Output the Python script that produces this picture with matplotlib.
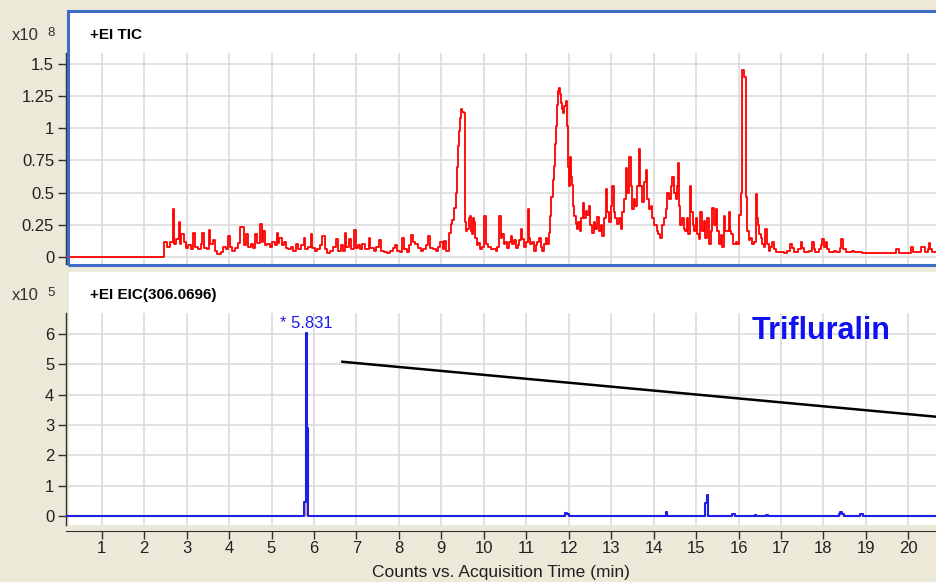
import numpy as np
import matplotlib
matplotlib.use("Agg")
import matplotlib.pyplot as plt
from matplotlib.patches import Rectangle

# ---- data -------------------------------------------------------------
# TIC trace (x10^8 counts), drawn as steps
tic_t = [0.16, 2.46, 2.55, 2.62, 2.68, 2.71, 2.76, 2.81, 2.84, 2.88, 2.93, 2.98, 3.04, 3.10,
         3.16, 3.20, 3.27, 3.33, 3.37, 3.41, 3.47, 3.52, 3.56, 3.63, 3.67, 3.72, 3.80, 3.86,
         3.92, 3.97, 4.02, 4.08, 4.14, 4.20, 4.25, 4.31, 4.35, 4.39, 4.44, 4.51, 4.56, 4.60,
         4.65, 4.73, 4.77, 4.80, 4.85, 4.90, 4.96, 5.02, 5.08, 5.12, 5.15, 5.18, 5.24, 5.29,
         5.33, 5.40, 5.45, 5.50, 5.57, 5.63, 5.70, 5.76, 5.80, 5.86, 5.92, 5.96, 6.02, 6.08,
         6.14, 6.20, 6.25, 6.31, 6.38, 6.45, 6.53, 6.57, 6.63, 6.68, 6.72, 6.76, 6.82, 6.87,
         6.94, 6.98, 7.03, 7.08, 7.14, 7.20, 7.29, 7.33, 7.41, 7.47, 7.53, 7.58, 7.65, 7.73,
         7.80, 7.85, 7.90, 7.96, 8.02, 8.08, 8.12, 8.18, 8.24, 8.29, 8.34, 8.39, 8.45, 8.51,
         8.57, 8.63, 8.68, 8.73, 8.80, 8.87, 8.93, 8.98, 9.03, 9.06, 9.10, 9.18, 9.22, 9.26,
         9.30, 9.34, 9.37, 9.39, 9.42, 9.44, 9.47, 9.49, 9.53, 9.55, 9.58, 9.61, 9.64, 9.67,
         9.70, 9.73, 9.75, 9.77, 9.80, 9.83, 9.87, 9.91, 9.95, 10.00, 10.04, 10.10, 10.16, 10.22,
         10.28, 10.32, 10.36, 10.40, 10.44, 10.48, 10.51, 10.55, 10.60, 10.63, 10.67, 10.71, 10.75, 10.80,
         10.84, 10.87, 10.91, 10.94, 11.00, 11.04, 11.07, 11.09, 11.13, 11.18, 11.22, 11.26, 11.30, 11.34,
         11.38, 11.42, 11.46, 11.50, 11.53, 11.56, 11.59, 11.62, 11.65, 11.67, 11.69, 11.72, 11.74, 11.77,
         11.80, 11.82, 11.85, 11.87, 11.90, 11.93, 11.95, 11.97, 11.99, 12.00, 12.02, 12.04, 12.06, 12.08,
         12.10, 12.12, 12.16, 12.20, 12.23, 12.26, 12.30, 12.34, 12.37, 12.40, 12.44, 12.47, 12.51, 12.55,
         12.59, 12.63, 12.67, 12.71, 12.75, 12.79, 12.83, 12.87, 12.91, 12.95, 12.99, 13.03, 13.06, 13.10,
         13.14, 13.18, 13.22, 13.26, 13.30, 13.34, 13.38, 13.42, 13.46, 13.50, 13.54, 13.57, 13.61, 13.65,
         13.69, 13.73, 13.77, 13.81, 13.85, 13.89, 13.93, 13.97, 14.02, 14.07, 14.11, 14.16, 14.20, 14.24,
         14.28, 14.32, 14.36, 14.40, 14.44, 14.48, 14.52, 14.55, 14.57, 14.60, 14.63, 14.67, 14.71, 14.75,
         14.79, 14.82, 14.85, 14.88, 14.92, 14.95, 15.00, 15.03, 15.06, 15.10, 15.14, 15.18, 15.22, 15.26,
         15.30, 15.34, 15.38, 15.42, 15.46, 15.50, 15.54, 15.58, 15.61, 15.65, 15.69, 15.72, 15.77, 15.80,
         15.83, 15.86, 15.89, 15.93, 15.97, 16.01, 16.06, 16.09, 16.13, 16.17, 16.20, 16.24, 16.28, 16.32,
         16.36, 16.40, 16.43, 16.45, 16.48, 16.52, 16.56, 16.60, 16.63, 16.67, 16.71, 16.75, 16.79, 16.83,
         16.88, 17.00, 17.07, 17.15, 17.22, 17.26, 17.30, 17.40, 17.46, 17.50, 17.54, 17.65, 17.73, 17.77,
         17.81, 17.90, 17.94, 17.97, 18.01, 18.05, 18.09, 18.13, 18.24, 18.30, 18.38, 18.42, 18.47, 18.52,
         18.60, 18.68, 18.73, 18.83, 18.90, 19.11, 19.66, 19.70, 19.78, 20.00, 20.05, 20.10, 20.30, 20.38,
         20.45, 20.48, 20.52, 20.56, 20.70]
tic_v = [0.0, 0.116, 0.08, 0.12, 0.377, 0.10, 0.14, 0.27, 0.10, 0.18, 0.12, 0.07, 0.09, 0.06,
         0.19, 0.08, 0.06, 0.10, 0.19, 0.07, 0.06, 0.21, 0.10, 0.13, 0.05, 0.02, 0.04, 0.08,
         0.06, 0.16, 0.08, 0.05, 0.07, 0.11, 0.23, 0.235, 0.09, 0.18, 0.08, 0.10, 0.07, 0.18,
         0.11, 0.26, 0.12, 0.20, 0.09, 0.10, 0.08, 0.12, 0.09, 0.19, 0.11, 0.15, 0.09, 0.12,
         0.07, 0.06, 0.08, 0.05, 0.10, 0.06, 0.09, 0.145, 0.06, 0.08, 0.18, 0.07, 0.05, 0.06,
         0.09, 0.16, 0.06, 0.03, 0.05, 0.08, 0.14, 0.05, 0.09, 0.05, 0.19, 0.08, 0.14, 0.06,
         0.21, 0.07, 0.09, 0.06, 0.10, 0.06, 0.15, 0.07, 0.05, 0.08, 0.13, 0.05, 0.04, 0.03,
         0.05, 0.07, 0.09, 0.05, 0.04, 0.15, 0.06, 0.04, 0.09, 0.17, 0.12, 0.10, 0.07, 0.05,
         0.06, 0.09, 0.165, 0.07, 0.06, 0.05, 0.08, 0.12, 0.06, 0.125, 0.05, 0.19, 0.26, 0.29,
         0.38, 0.50, 0.70, 0.86, 0.98, 1.08, 1.15, 1.13, 1.12, 0.27, 0.20, 0.22, 0.30, 0.32,
         0.20, 0.18, 0.30, 0.27, 0.15, 0.09, 0.11, 0.06, 0.08, 0.32, 0.10, 0.08, 0.06, 0.06,
         0.05, 0.08, 0.32, 0.15, 0.18, 0.10, 0.12, 0.07, 0.12, 0.16, 0.10, 0.13, 0.07, 0.09,
         0.13, 0.22, 0.14, 0.08, 0.12, 0.37, 0.15, 0.10, 0.12, 0.05, 0.09, 0.12, 0.15, 0.08,
         0.05, 0.10, 0.15, 0.10, 0.19, 0.32, 0.47, 0.60, 0.71, 0.88, 1.02, 1.18, 1.29, 1.31,
         1.27, 1.20, 1.15, 1.12, 1.17, 1.21, 1.12, 1.02, 0.70, 0.55, 0.70, 0.78, 0.62, 0.56,
         0.40, 0.32, 0.26, 0.22, 0.27, 0.20, 0.30, 0.42, 0.30, 0.36, 0.33, 0.40, 0.25, 0.19,
         0.27, 0.22, 0.31, 0.20, 0.25, 0.165, 0.30, 0.53, 0.35, 0.27, 0.40, 0.55, 0.35, 0.30,
         0.26, 0.30, 0.22, 0.35, 0.45, 0.69, 0.50, 0.78, 0.55, 0.37, 0.45, 0.40, 0.55, 0.84,
         0.55, 0.43, 0.58, 0.68, 0.45, 0.37, 0.40, 0.30, 0.25, 0.20, 0.18, 0.15, 0.25, 0.30,
         0.37, 0.50, 0.45, 0.55, 0.62, 0.50, 0.45, 0.55, 0.73, 0.40, 0.25, 0.30, 0.22, 0.20,
         0.30, 0.18, 0.55, 0.35, 0.25, 0.20, 0.30, 0.18, 0.14, 0.35, 0.20, 0.28, 0.15, 0.30,
         0.10, 0.20, 0.38, 0.25, 0.37, 0.20, 0.10, 0.17, 0.08, 0.32, 0.20, 0.20, 0.35, 0.20,
         0.18, 0.10, 0.10, 0.12, 0.10, 0.33, 0.50, 1.45, 1.40, 0.47, 0.20, 0.13, 0.15, 0.10,
         0.12, 0.49, 0.30, 0.25, 0.18, 0.15, 0.10, 0.08, 0.22, 0.10, 0.05, 0.08, 0.12, 0.06,
         0.04, 0.04, 0.035, 0.05, 0.10, 0.07, 0.04, 0.06, 0.12, 0.07, 0.04, 0.05, 0.12, 0.06,
         0.04, 0.06, 0.09, 0.14, 0.08, 0.12, 0.06, 0.04, 0.05, 0.04, 0.07, 0.14, 0.06, 0.04,
         0.04, 0.05, 0.04, 0.04, 0.035, 0.035, 0.035, 0.06, 0.035, 0.035, 0.075, 0.04, 0.075, 0.04,
         0.06, 0.11, 0.06, 0.04, 0.035]

# EIC 306.0696 trace (x10^5 counts), steps
eic_t = [0.16, 5.77, 5.81, 5.83, 5.86, 11.92, 11.97, 12.00, 14.29, 14.32, 15.20, 15.25, 15.29,
         15.85, 15.92, 16.38, 16.42, 16.65, 16.69, 18.36, 18.40, 18.44, 18.48, 18.86, 18.93, 20.70]
eic_v = [0.0, 0.45, 6.05, 2.9, 0.0, 0.10, 0.05, 0.0, 0.14, 0.0, 0.42, 0.69, 0.0,
         0.05, 0.0, 0.04, 0.0, 0.04, 0.0, 0.06, 0.12, 0.06, 0.0, 0.05, 0.0, 0.0]

peak_rt = 5.831
peak_height = 6.05
integ_start, integ_end, integ_height = 5.77, 5.85, 0.45

tic_yticks = [0, 0.25, 0.5, 0.75, 1, 1.25, 1.5]
tic_ylabels = ['0', '0.25', '0.5', '0.75', '1', '1.25', '1.5']
eic_yticks = [0, 1, 2, 3, 4, 5, 6]
x_ticks = list(range(1, 21))

# ---- figure -----------------------------------------------------------
W, H = 936, 582
BEIGE = '#ECE9D8'
GRID = '#DCDCDC'
FRAME = '#3D6DC5'

plt.rcParams['font.family'] = ['Liberation Sans', 'DejaVu Sans']

fig = plt.figure(figsize=(W / 100, H / 100), dpi=100, facecolor=BEIGE)


def box(x0, y0, x1, y1):
    # pixel box (top-left origin) -> figure fraction rect
    return [x0 / W, 1 - y1 / H, (x1 - x0) / W, (y1 - y0) / H]


def fx(x):
    return x / W


def fy(y):
    return 1 - y / H


# white panels behind the axes, blue selection frame on top of the upper one
fig.patches.append(Rectangle((fx(68), fy(265.5)), (945 - 68) / W, (265.5 - 11.5) / H,
                             transform=fig.transFigure, facecolor='white', edgecolor='none',
                             zorder=0))
fig.patches.append(Rectangle((fx(68), fy(265.5)), (945 - 68) / W, (265.5 - 11.5) / H,
                             transform=fig.transFigure, facecolor='none', edgecolor=FRAME,
                             lw=2.2, zorder=5))
fig.patches.append(Rectangle((fx(69), fy(525)), (936 - 69) / W, (525 - 272) / H,
                             transform=fig.transFigure, facecolor='white', edgecolor='none',
                             zorder=0))

xlim = (0.16, 20.65)

ax1 = fig.add_axes(box(66, 53, 936, 264))
ax2 = fig.add_axes(box(66, 313, 936, 525))

for ax in (ax1, ax2):
    ax.set_zorder(2)
    ax.set_facecolor('none')
    ax.set_xlim(*xlim)
    for s in ('top', 'right'):
        ax.spines[s].set_visible(False)
    ax.spines['left'].set_color('#303030')
    ax.spines['left'].set_linewidth(1.0)
    ax.set_xticks(x_ticks)
    ax.grid(True, color=GRID, lw=1.2, zorder=0)
    ax.set_axisbelow(True)
    ax.tick_params(axis='y', direction='out', length=6, width=1, color='#303030',
                   labelsize=12, labelcolor='#202020', pad=2.5)

# top: TIC
ax1.step(tic_t, tic_v, where='post', color='#FF0000', lw=1.3, zorder=3)
ax1.set_ylim(-0.054, 1.585)
ax1.set_yticks(tic_yticks)
ax1.set_yticklabels(tic_ylabels)
ax1.spines['bottom'].set_visible(False)
ax1.tick_params(axis='x', length=0, labelbottom=False)

# bottom: EIC
ax2.fill_between([integ_start, integ_end], 0, integ_height, color='#D9A3AE', lw=0, zorder=2)
ax2.step(eic_t, eic_v, where='post', color='#1E1EE6', lw=1.5, zorder=3)
ax2.set_ylim(-0.30, 6.70)
ax2.set_yticks(eic_yticks)
ax2.spines['bottom'].set_position(('outward', 4.3))
ax2.spines['bottom'].set_color('#303030')
ax2.tick_params(axis='x', direction='out', length=6, width=1, color='#303030',
                labelsize=12, labelcolor='#202020', pad=1)
ax2.set_xlabel('Counts vs. Acquisition Time (min)', fontsize=12.5, color='#202020', labelpad=7)

ax2.annotate('* %.3f' % peak_rt, xy=(peak_rt, peak_height), xytext=(0, 1),
             textcoords='offset points', ha='center', va='bottom',
             fontsize=12, color='#1E1EE6', zorder=4)

# pointer line from the peak area to the compound label
ax2.plot([6.67, 21.0], [5.09, 3.23], color='black', lw=1.8, zorder=4, clip_on=False)
ax2.text(19.57, 5.85, 'Trifluralin', fontsize=22, fontweight='bold', color='#1010F0',
         ha='right', va='baseline', zorder=5)

# panel titles and exponent labels
fig.text(fx(90), fy(35), '+EI TIC', fontsize=11, fontweight='bold', va='center')
fig.text(fx(90), fy(295), '+EI EIC(306.0696)', fontsize=11, fontweight='bold', va='center')
for yc, exp in ((36, '8'), (296, '5')):
    fig.text(fx(12), fy(yc), 'x10', fontsize=12, color='#303030', va='center')
    fig.text(fx(47), fy(yc - 3), exp, fontsize=9.5, color='#303030', va='center')

fig.savefig('out.png', dpi=100, facecolor=BEIGE)
